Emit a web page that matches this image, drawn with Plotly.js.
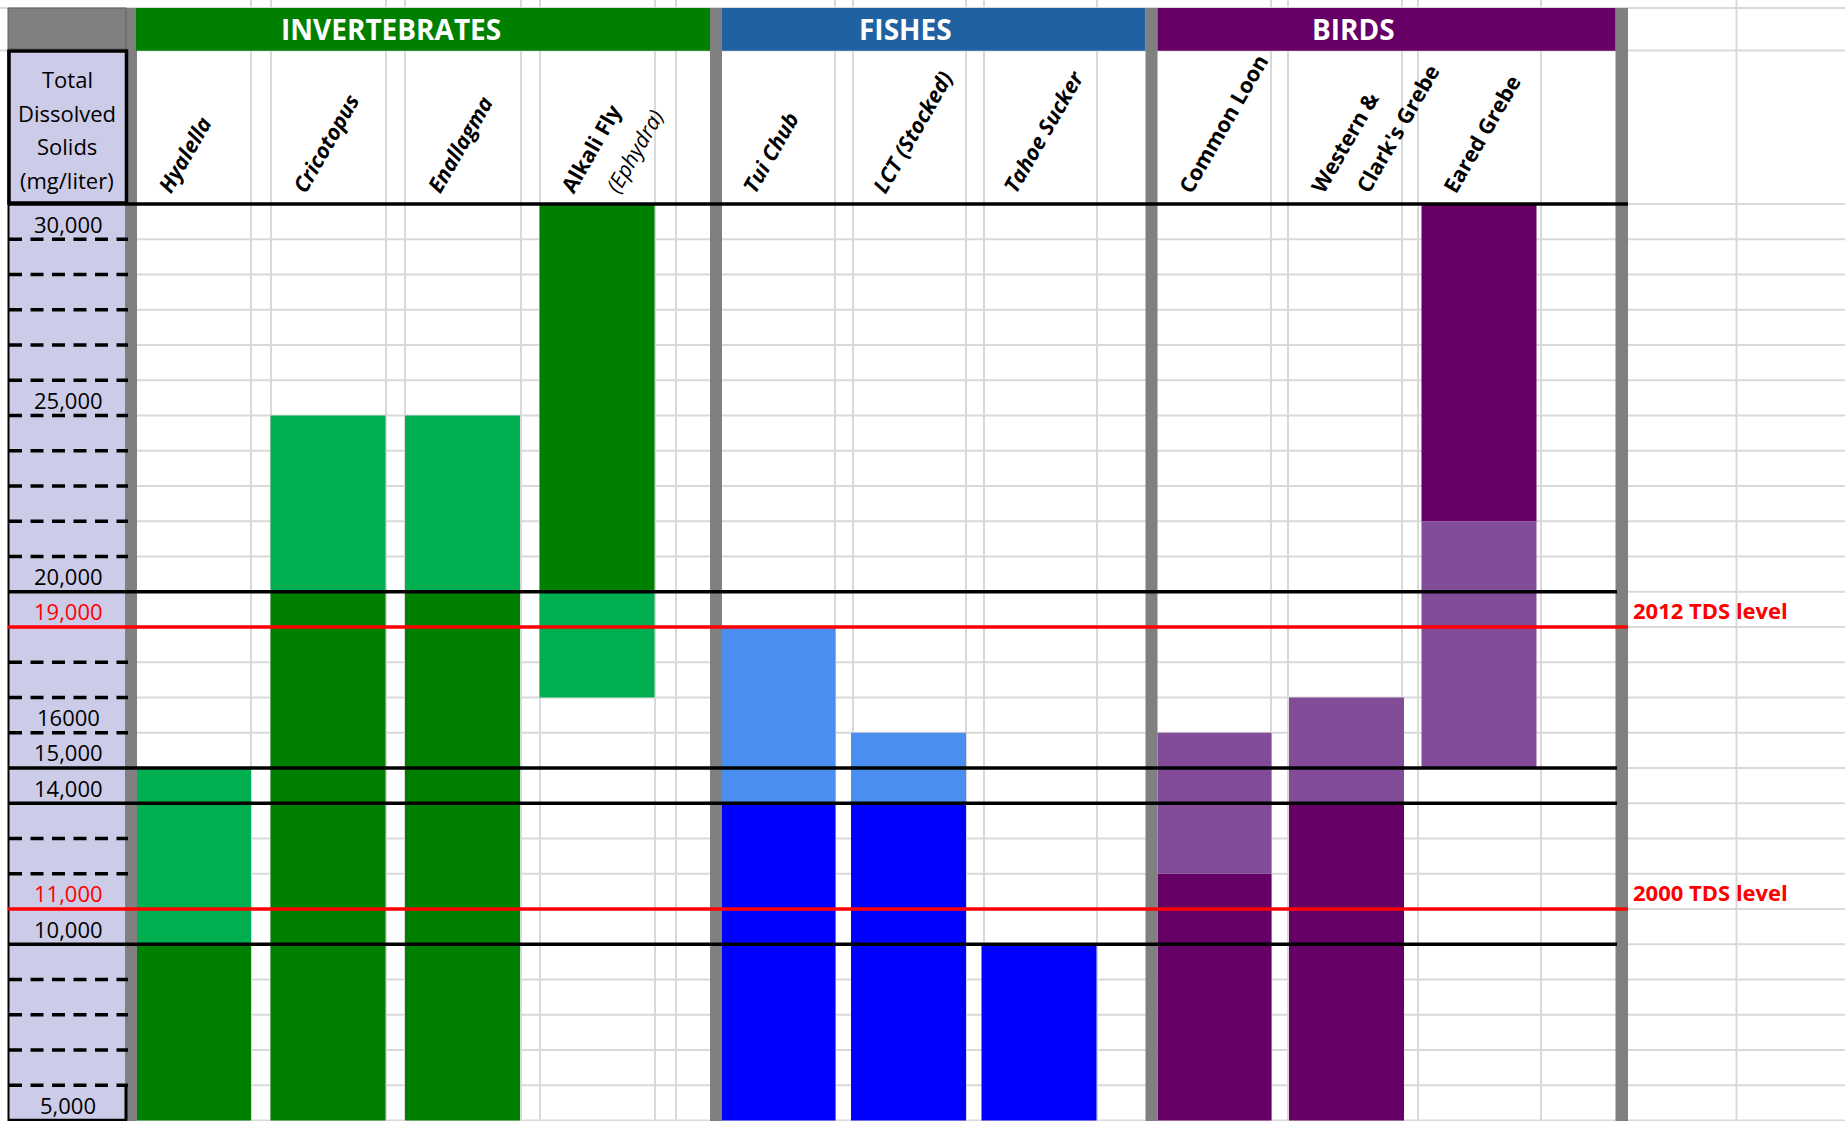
<!DOCTYPE html>
<html><head><meta charset="utf-8">
<script src="https://cdn.plot.ly/plotly-3.0.1.min.js"></script>
<style>html,body{margin:0;padding:0;background:#fff;overflow:hidden}#chart{width:1845px;height:1121px}</style>
</head><body><div id="chart"></div>
<script>
// ---------------- data ----------------
const groupNames = ['INVERTEBRATES', 'FISHES', 'BIRDS'];
const species = ['Hyalella', 'Cricotopus', 'Enallagma', 'Alkali Fly (Ephydra)', 'Tui Chub', 'LCT (Stocked)', 'Tahoe Sucker', 'Common Loon', "Western & Clark's Grebe", 'Eared Grebe'];
const speciesGroup = [0, 0, 0, 0, 1, 1, 1, 2, 2, 2];
// dark segment (tolerated)
const fullLow  = [5000, 5000, 5000, 20000, 5000, 5000, 5000, 5000, 5000, 22000];
const fullHigh = [10000, 20000, 20000, 31000, 14000, 14000, 10000, 12000, 14000, 31000];
// light segment (partly tolerated)
const partLow  = [10000, 20000, 20000, 17000, 14000, 14000, null, 12000, 14000, 15000];
const partHigh = [15000, 25000, 25000, 20000, 19000, 16000, null, 16000, 17000, 22000];
const levelNames = ['2012 TDS level', '2000 TDS level'];
const levelValues = [19000, 11000];
const tickValues = [30000, 25000, 20000, 19000, 16000, 15000, 14000, 11000, 10000, 5000];
const tickLabels = ['30,000', '25,000', '20,000', '19,000', '16000', '15,000', '14,000', '11,000', '10,000', '5,000'];
const axisTitleLines = ['Total', 'Dissolved', 'Solids', '(mg/liter)'];
const speciesLabelLines = [
  ['<b><i>Hyalella</i></b>'],
  ['<b><i>Cricotopus</i></b>'],
  ['<b><i>Enallagma</i></b>'],
  ['<b>Alkali Fly</b>', '<i>(Ephydra)</i>'],
  ['<b><i>Tui Chub</i></b>'],
  ['<b><i>LCT (Stocked)</i></b>'],
  ['<b><i>Tahoe Sucker</i></b>'],
  ['<b>Common Loon</b>'],
  ['<b>Western &amp;</b>', "<b>Clark's Grebe</b>"],
  ['<b>Eared Grebe</b>']
];

// ---------------- styles / geometry ----------------
const W = 1845, H = 1121;
const FONT = '"Open Sans", Lato, sans-serif';
const darkColors = ['#008000', '#0000ff', '#660066'];
const lightColors = ['#00b050', '#4a8eef', '#834c98'];
const headerColors = ['#008000', '#2062a1', '#660066'];
const rowTopPx = 204, rowPx = 35.25, topValue = 31000, rowStep = 1000, bottomValue = 5000;
const groupDomainPx = [[136, 710], [722, 1145.5], [1157.5, 1615.5]];
const groupFirstCenterPx = [193.5, 778, 1214];
const groupPitchPx = [134.5, 130.5, 132.5];
const barPx = 115;
const separatorsPx = [[125, 137], [710, 722], [1145.5, 1157.5], [1615.5, 1628]];
const vGridPx = [251, 271, 386, 405, 521, 540, 655, 676, 835, 853, 966, 984, 1097, 1271, 1288, 1402, 1418, 1541, 1736.5];
const headerTextPx = [390.6, 905.5, 1353];
const blackRuleValues = [31000, 20000, 15000, 14000, 10000];

const px = v => v / W;            // x pixel -> paper
const py = v => 1 - v / H;        // y pixel -> paper
const yTop = topValue + rowTopPx / rowPx * rowStep;
const yBottom = topValue - (H - rowTopPx) / rowPx * rowStep;

const traces = [];
const layout = {
  width: W, height: H, margin: {l: 0, r: 0, t: 0, b: 0},
  paper_bgcolor: '#ffffff', plot_bgcolor: 'rgba(0,0,0,0)',
  barmode: 'overlay', showlegend: false,
  font: {family: FONT, size: 22, color: '#000'},
  yaxis: {domain: [0, 1], range: [yBottom, yTop], visible: false, fixedrange: true, anchor: 'x'},
  shapes: [], annotations: []
};

const colCenter = [];
groupNames.forEach((g, gi) => {
  const idxs = species.map((s, i) => i).filter(i => speciesGroup[i] === gi);
  const names = idxs.map(i => species[i]);
  idxs.forEach((i, k) => colCenter[i] = groupFirstCenterPx[gi] + k * groupPitchPx[gi]);
  const axName = gi === 0 ? 'xaxis' : 'xaxis' + (gi + 1);
  const axRef = gi === 0 ? 'x' : 'x' + (gi + 1);
  const d = groupDomainPx[gi];
  layout[axName] = {
    domain: [px(d[0]), px(d[1])], type: 'category', categoryorder: 'array', categoryarray: names,
    range: [(d[0] - groupFirstCenterPx[gi]) / groupPitchPx[gi], (d[1] - groupFirstCenterPx[gi]) / groupPitchPx[gi]],
    visible: false, fixedrange: true, anchor: 'y'
  };
  const w = barPx / groupPitchPx[gi];
  traces.push({
    type: 'bar', xaxis: axRef, yaxis: 'y', x: names,
    base: idxs.map(i => fullLow[i]), y: idxs.map(i => fullHigh[i] - fullLow[i]),
    width: w, marker: {color: darkColors[gi], line: {width: 0}}, hoverinfo: 'skip'
  });
  const pIdx = idxs.filter(i => partLow[i] !== null);
  traces.push({
    type: 'bar', xaxis: axRef, yaxis: 'y', x: pIdx.map(i => species[i]),
    base: pIdx.map(i => partLow[i]), y: pIdx.map(i => partHigh[i] - partLow[i]),
    width: w, marker: {color: lightColors[gi], line: {width: 0}}, hoverinfo: 'skip'
  });
});

const S = layout.shapes, A = layout.annotations;
const GRID = '#d9d9d9';
// gridlines (below)
vGridPx.forEach(x => S.push({type: 'line', layer: 'below', xref: 'paper', yref: 'paper', x0: px(x), x1: px(x), y0: 0, y1: 1, line: {color: GRID, width: 2}}));
[8, 50.5].forEach(y => S.push({type: 'line', layer: 'below', xref: 'paper', yref: 'paper', x0: 0, x1: 1, y0: py(y), y1: py(y), line: {color: GRID, width: 2}}));
for (let v = bottomValue; v <= topValue; v += rowStep) {
  S.push({type: 'line', layer: 'below', xref: 'paper', yref: 'y', x0: px(137), x1: 1, y0: v, y1: v, line: {color: GRID, width: 2}});
}
// lavender axis column
S.push({type: 'rect', layer: 'below', xref: 'paper', yref: 'paper', x0: px(8), x1: px(125), y0: 0, y1: py(50), fillcolor: '#cccce9', line: {width: 0}});

// gray separators
separatorsPx.forEach(s => S.push({type: 'rect', layer: 'above', xref: 'paper', yref: 'paper', x0: px(s[0]), x1: px(s[1]), y0: 0, y1: py(8), fillcolor: '#808080', line: {width: 0}}));
// top-left gray box
S.push({type: 'rect', layer: 'above', xref: 'paper', yref: 'paper', x0: px(8), x1: px(126), y0: py(49), y1: py(8), fillcolor: '#808080', line: {color: '#5f5f5f', width: 1}});
// header bars
groupNames.forEach((g, gi) => {
  const d = groupDomainPx[gi];
  S.push({type: 'rect', layer: 'above', xref: 'paper', yref: 'paper', x0: px(d[0]), x1: px(d[1]), y0: py(50.7), y1: py(8), fillcolor: headerColors[gi], line: {width: 0}});
  A.push({xref: 'paper', yref: 'paper', x: px(headerTextPx[gi]), y: py(29.5), xanchor: 'center', yanchor: 'middle', showarrow: false,
    text: '<b>' + g + '</b>', font: {family: FONT, size: 28, color: '#ffffff'}});
});
// axis title box
S.push({type: 'rect', layer: 'above', xref: 'paper', yref: 'paper', x0: px(9), x1: px(126.5), y0: py(203), y1: py(51), line: {color: '#000', width: 3.5}});
S.push({type: 'line', layer: 'above', xref: 'paper', yref: 'paper', x0: px(8.5), x1: px(8.5), y0: 0, y1: py(50), line: {color: '#000', width: 2}});
const titleLinePx = [79, 112.5, 146, 180];
axisTitleLines.forEach((t, k) => A.push({xref: 'paper', yref: 'paper', x: px(67), y: py(titleLinePx[k]), xanchor: 'center', yanchor: 'middle', showarrow: false, text: t, font: {family: FONT, size: 22, color: '#000'}}));

// dashed row marks in axis column
for (let v = bottomValue + rowStep; v < topValue; v += rowStep) {
  if (blackRuleValues.includes(v) || levelValues.includes(v)) continue;
  S.push({type: 'line', layer: 'above', xref: 'paper', yref: 'y', x0: px(9), x1: px(128), y0: v, y1: v, line: {color: '#000', width: 3.5, dash: '13px,8.5px'}});
}
// last cell border
S.push({type: 'line', layer: 'above', xref: 'paper', yref: 'y', x0: px(126), x1: px(126), y0: bottomValue, y1: bottomValue + rowStep, line: {color: '#000', width: 3}});
S.push({type: 'line', layer: 'above', xref: 'paper', yref: 'y', x0: px(8), x1: px(127), y0: bottomValue + 8, y1: bottomValue + 8, line: {color: '#000', width: 3}});

// black rules
blackRuleValues.forEach((v, k) => S.push({type: 'line', layer: 'above', xref: 'paper', yref: 'y', x0: px(8), x1: px(k === 0 ? 1628 : 1617), y0: v, y1: v, line: {color: '#000', width: 3.5}}));
// TDS level lines
levelValues.forEach((v, k) => {
  S.push({type: 'line', layer: 'above', xref: 'paper', yref: 'y', x0: px(8), x1: px(1628), y0: v, y1: v, line: {color: '#ff0000', width: 3.5}});
  A.push({xref: 'paper', yref: 'y', x: px(1631), y: v + rowStep / 2, xanchor: 'left', yanchor: 'middle', yshift: -1, showarrow: false,
    text: '<b>' + levelNames[k] + '</b>', font: {family: FONT, size: 22, color: '#ff0000'}});
});
// row labels
tickValues.forEach((v, k) => A.push({xref: 'paper', yref: 'y', x: px(68), y: v + rowStep / 2, xanchor: 'center', yanchor: 'middle', yshift: -2, showarrow: false,
  text: tickLabels[k], font: {family: FONT, size: 22, color: levelValues.includes(v) ? '#ff0000' : '#000'}}));

// rotated species labels
const ANG = 60, LFS = 21.5, lineBoxH = 30;
species.forEach((s, i) => {
  speciesLabelLines[i].forEach((t, j) => {
    const p0x = colCenter[i] - 18 + 45 * j;
    A.push({xref: 'paper', yref: 'paper', x: px(p0x - Math.sin(ANG * Math.PI / 180) * lineBoxH), y: py(199), xanchor: 'left', yanchor: 'bottom',
      textangle: -ANG, showarrow: false, borderpad: 0, text: t, font: {family: FONT, size: LFS, color: '#000'}});
  });
});

Plotly.newPlot('chart', traces, layout, {staticPlot: true, displayModeBar: false});
</script></body></html>
